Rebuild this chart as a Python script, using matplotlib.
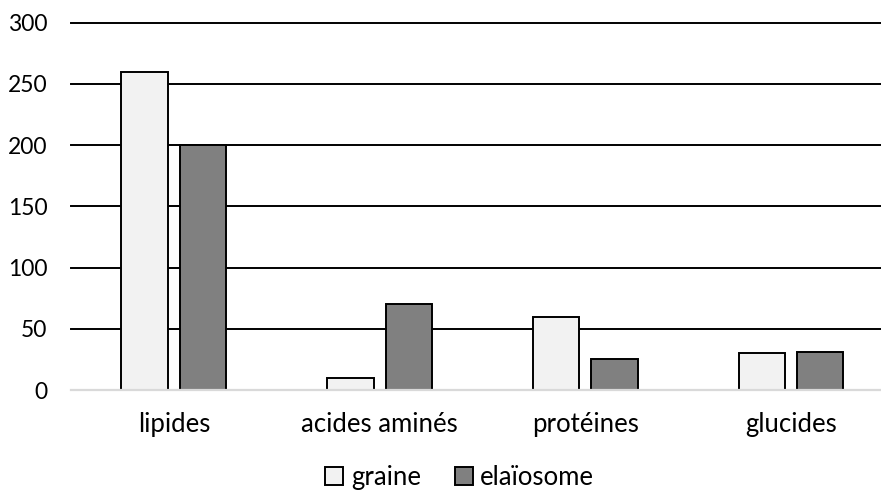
import matplotlib
matplotlib.use("Agg")
import matplotlib.pyplot as plt
import numpy as np

categories = ["lipides", "acides aminés", "protéines", "glucides"]
graine = [260, 10, 60, 30]
elaiosome = [200, 70, 25, 31]
series_names = ["graine", "elaïosome"]
yticks = [0, 50, 100, 150, 200, 250, 300]

plt.rcParams['font.family'] = ['Lato', 'DejaVu Sans']

fig = plt.figure(figsize=(8.81, 4.94), dpi=100)
ax = fig.add_axes([0.0806, 0.2105, 0.934, 0.7435])

x = np.arange(len(categories))
w = 0.226
off = 0.142
ax.bar(x - off, graine, w, color="#f2f2f2", edgecolor="black", linewidth=1.4,
       label=series_names[0], zorder=3)
ax.bar(x + off, elaiosome, w, color="#808080", edgecolor="black", linewidth=1.4,
       label=series_names[1], zorder=3)

ax.set_xlim(-0.5, len(categories) - 0.5)
ax.set_ylim(0, 300)
ax.set_yticks(yticks)
ax.set_yticklabels([str(v) for v in yticks], fontsize=16.5)
ax.set_xticks(x)
ax.set_xticklabels(categories, fontsize=18.5)
ax.tick_params(axis='both', length=0)
ax.tick_params(axis='y', pad=17)
ax.tick_params(axis='x', pad=16)

for v in yticks[1:]:
    ax.axhline(v, color="black", linewidth=1.4, zorder=1, clip_on=False)

for s in ["top", "right", "left"]:
    ax.spines[s].set_visible(False)
ax.spines["bottom"].set_color("#d9d9d9")
ax.spines["bottom"].set_linewidth(1.6)
ax.spines["bottom"].set_zorder(4)

leg = fig.legend(loc="center", bbox_to_anchor=(0.522, 0.033), ncol=2, frameon=False,
                 fontsize=18.5, handlelength=0.7, handleheight=0.7, handletextpad=0.3,
                 columnspacing=1.3)

fig.savefig("out.png", dpi=100)
